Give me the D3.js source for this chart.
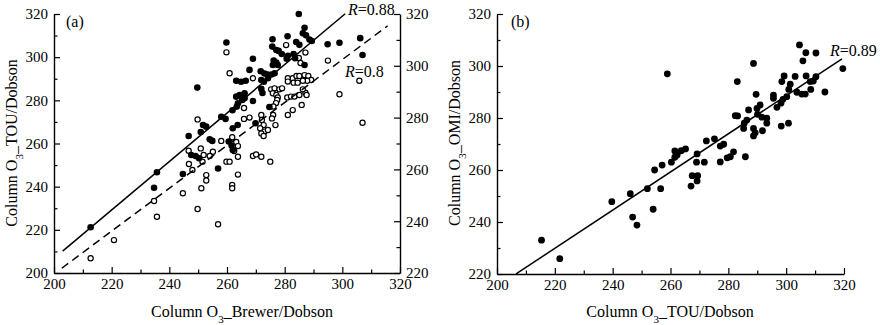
<!DOCTYPE html>
<html><head><meta charset="utf-8">
<script src="https://cdn.jsdelivr.net/npm/d3@7"></script>
<style>
body{margin:0;background:#fff}
svg{display:block}
text{font-family:"Liberation Serif","Times New Roman",serif;fill:#000}
</style>
</head><body>
<svg id="c" width="880" height="325"></svg>
<script>
// ---------- DATA ----------
// Panel (a): filled dots = Column O3_TOU vs Brewer/Dobson (left axis)
const aFilledX = [284.9,286.9,286.3,287.4,288.6,289.4,281.0,275.8,284.0,285.1,294.9,299.0,306.2,307.0,275.7,277.1,277.9,279.0,281.1,283.1,283.6,269.0,276.2,277.1,275.9,277.6,280.7,286.9,267.8,271.7,273.0,274.0,275.4,276.5,263.2,264.9,266.5,271.9,272.8,274.2,271.9,272.3,266.1,266.1,264.4,265.3,263.2,263.8,269.0,263.4,261.9,274.7,258.0,259.5,269.9,251.7,252.8,250.9,262.0,263.7,246.7,254.0,254.9,260.6,261.6,262.0,247.6,249.1,250.3,256.9,234.7,235.7,244.7,212.7,249.7,259.8];
const aFilledY = [320.0,313.6,311.1,310.1,308.2,307.5,309.7,308.3,307.0,305.7,306.0,306.7,308.8,301.0,304.9,303.3,302.9,301.5,300.6,301.5,299.5,299.3,298.4,297.5,296.4,296.4,299.3,296.4,294.1,293.5,292.4,292.0,292.0,292.5,289.1,288.6,289.1,289.4,288.6,290.2,285.3,283.4,283.3,281.0,282.5,280.2,281.7,278.6,279.7,277.1,275.4,276.9,272.4,271.4,269.4,268.6,267.8,265.3,267.1,268.6,263.5,262.0,261.2,260.9,259.1,257.0,254.7,254.2,253.2,248.4,239.5,246.7,245.9,221.2,285.9,306.8];
// Panel (a): open dots (right axis, 220-320)
const aOpenX = [259.8,260.9,249.8,258.0,261.8,250.9,255.1,254.0,263.2,263.8,262.5,263.8,246.7,280.5,287.2,284.9,285.5,295.0,269.0,281.1,282.8,284.1,285.1,286.9,288.2,289.2,287.8,286.3,283.1,284.5,281.1,305.9,299.0,275.3,276.5,278.2,279.1,275.9,277.1,277.6,277.4,280.9,282.2,283.4,285.1,287.2,287.6,286.3,282.8,285.9,281.1,277.0,276.1,276.0,275.6,271.9,272.1,272.7,271.5,273.0,271.9,272.7,274.2,276.8,265.9,265.9,267.8,307.0,251.9,251.5,259.8,260.9,269.0,270.1,271.9,275.0,263.8,252.8,252.8,261.8,261.8,251.1,246.8,248.0,249.8,256.9,244.7,234.7,235.7,220.8,212.7];
const aOpenY = [305.2,297.1,279.3,271.0,272.4,268.1,266.8,265.2,270.6,269.0,267.1,264.9,267.2,308.0,305.1,303.0,301.1,302.0,295.2,295.2,295.2,296.1,296.1,296.4,296.1,294.5,294.2,294.2,293.5,293.5,293.9,294.2,289.0,290.9,291.3,290.9,291.3,289.4,288.7,287.8,286.8,287.8,288.1,288.1,288.7,289.6,288.7,290.9,282.9,284.9,281.0,285.6,284.3,281.0,279.7,281.0,279.1,277.1,275.9,274.6,273.9,272.9,275.2,277.1,283.7,279.5,280.0,278.0,265.6,263.0,263.0,263.0,265.2,265.8,264.9,263.0,258.0,257.8,255.7,254.0,252.7,252.7,262.1,259.8,244.7,238.8,250.8,247.8,241.7,232.7,225.7];
// Panel (b): Column O3_OMI vs TOU/Dobson
const bX = [215.4,221.7,239.7,246.1,246.9,248.4,252.0,254.0,254.5,256.6,257.1,258.9,260.3,261.5,262.3,261.5,263.7,265.2,267.1,267.5,269.4,269.2,269.2,269.0,271.7,272.4,275.2,277.2,278.4,277.2,279.6,280.7,281.8,285.9,282.4,283.2,283.1,285.5,285.3,286.4,287.0,288.7,288.7,289.3,288.7,289.6,289.9,290.1,291.0,291.6,291.8,293.3,293.3,295.6,295.6,296.8,298.2,298.3,300.8,298.9,300.2,300.9,301.4,298.5,299.3,303.1,303.7,305.4,306.6,306.9,308.3,309.4,310.3,308.5,313.4,304.6,306.8,310.3,305.8,319.6];
const bY = [233.0,225.9,247.8,250.9,241.9,238.8,252.8,244.9,260.0,252.8,261.9,297.0,263.0,264.9,265.8,267.3,267.4,268.1,253.8,257.8,257.8,255.8,266.2,263.0,263.0,271.2,272.0,269.2,269.9,263.1,264.7,265.1,267.0,265.1,280.9,280.8,294.0,278.0,276.0,279.2,283.1,301.0,276.0,274.3,273.1,289.1,283.7,281.4,285.0,280.3,275.1,279.9,278.0,288.8,287.6,284.1,285.7,276.9,278.0,287.2,288.2,291.0,293.0,294.0,296.2,296.0,289.9,289.2,289.2,296.2,294.0,294.2,295.9,291.0,290.0,308.1,305.1,305.0,302.0,299.0];
// Fitted lines: [slope, intercept, xStart, xEnd]
const fitAFilled = [1.122, -17.6, 203, 301];
const fitAOpen = [0.828, 54.0, 202.7, 315.7];
const fitB = [0.734, 68.4, 206.6, 319.3];
const rLabels = ["0.88", "0.8", "0.89"];
// Axis ticks
const xMajor = [200,220,240,260,280,300,320];
const xMinor = [210,230,250,270,290,310];
const yMajorA = [200,220,240,260,280,300,320];
const yMinorA = [210,230,250,270,290,310];
const yMajorR = [220,240,260,280,300,320];
const yMinorR = [230,250,270,290,310];

// ---------- DRAW ----------
const svg = d3.select("#c");
const FS = 15;

const xa = d3.scaleLinear().domain([200,320]).range([54,400]);
const ya = d3.scaleLinear().domain([200,320]).range([273,14]);
const yaR = d3.scaleLinear().domain([220,320]).range([273,14]);
const xb = d3.scaleLinear().domain([200,320]).range([497,844]);
const yb = d3.scaleLinear().domain([220,320]).range([274,14]);

function styleAxis(g){
  g.attr("font-family",null).attr("font-size",null);
  g.selectAll("path.domain").attr("stroke","#000").attr("stroke-width",1.4);
  g.selectAll(".tick line").attr("stroke","#000").attr("stroke-width",1.2);
  g.selectAll("text").style("font-size",FS+"px");
}
function axisSet(make, major, minor, transform, pad){
  const g1 = svg.append("g").attr("transform",transform)
    .call(make().tickValues(major).tickSize(-6).tickSizeOuter(0).tickPadding(pad).tickFormat(d3.format("d")));
  styleAxis(g1);
  const g2 = svg.append("g").attr("transform",transform)
    .call(make().tickValues(minor).tickSize(-3.5).tickSizeOuter(0).tickFormat(""));
  styleAxis(g2);
  g2.select("path.domain").remove();
}
// panel a
axisSet(()=>d3.axisBottom(xa), xMajor, xMinor, "translate(0,273)", 5);
axisSet(()=>d3.axisLeft(ya), yMajorA, yMinorA, "translate(54,0)", 6);
axisSet(()=>d3.axisRight(yaR), yMajorR, yMinorR, "translate(400,0)", 6);
// panel b
axisSet(()=>d3.axisBottom(xb), xMajor, xMinor, "translate(0,274)", 5);
axisSet(()=>d3.axisLeft(yb), yMajorR, yMinorR, "translate(497,0)", 6);

// points
const aOpen = aOpenX.map((x,i)=>({x, y:aOpenY[i]}));
const aFilled = aFilledX.map((x,i)=>({x, y:aFilledY[i]}));
const bPts = bX.map((x,i)=>({x, y:bY[i]}));

svg.append("g").selectAll("circle").data(aOpen).join("circle")
  .attr("cx",d=>xa(d.x)).attr("cy",d=>yaR(d.y)).attr("r",2.6)
  .attr("fill","#fff").attr("stroke","#000").attr("stroke-width",1.2);
svg.append("g").selectAll("circle").data(aFilled).join("circle")
  .attr("cx",d=>xa(d.x)).attr("cy",d=>ya(d.y)).attr("r",3.3).attr("fill","#000");
svg.append("g").selectAll("circle").data(bPts).join("circle")
  .attr("cx",d=>xb(d.x)).attr("cy",d=>yb(d.y)).attr("r",3.4).attr("fill","#000");

// fit lines
function fitLine(fit, xs, ys, dash){
  const pts = [fit[2], fit[3]].map(x=>[xs(x), ys(fit[0]*x+fit[1])]);
  svg.append("path").attr("d", d3.line()(pts)).attr("fill","none")
    .attr("stroke","#000").attr("stroke-width",1.5)
    .attr("stroke-dasharray", dash || null);
}
fitLine(fitAFilled, xa, ya);
fitLine(fitAOpen, xa, yaR, "8,5");
fitLine(fitB, xb, yb);

// R labels
function rLabel(x, y, val){
  const t = svg.append("text").attr("x",x).attr("y",y).style("font-size","16px");
  t.append("tspan").attr("font-style","italic").text("R");
  t.append("tspan").text("=" + val);
}
rLabel(348, 15, rLabels[0]);
rLabel(345, 77, rLabels[1]);
rLabel(830, 56, rLabels[2]);

// panel labels
svg.append("text").attr("x",66).attr("y",27).style("font-size","16px").text("(a)");
svg.append("text").attr("x",511).attr("y",27).style("font-size","16px").text("(b)");

// axis titles
function title(x, y, rot, pre, post){
  const t = svg.append("text").attr("text-anchor","middle")
    .attr("transform",`translate(${x},${y}) rotate(${rot})`).style("font-size","16px");
  t.append("tspan").text(pre);
  t.append("tspan").attr("baseline-shift","sub").style("font-size","11px").text("3");
  t.append("tspan").text(post);
}
title(242, 317, 0, "Column O", "_Brewer/Dobson");
title(670, 317, 0, "Column O", "_TOU/Dobson");
title(17, 143, -90, "Column O", "_TOU/Dobson");
title(460, 143, -90, "Column O", "_OMI/Dobson");
</script>
</body></html>
